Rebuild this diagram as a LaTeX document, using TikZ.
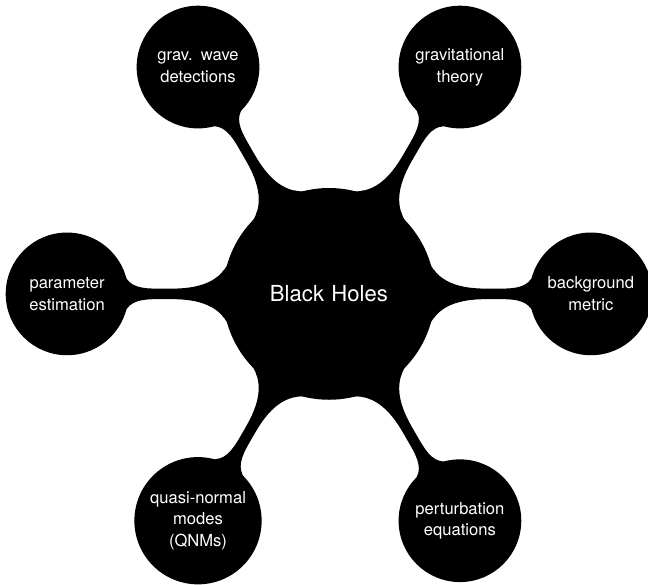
\documentclass[tikz,border=0pt]{standalone}
\usepackage{fontspec}
\setmainfont{TeX Gyre Heros}
\usepackage{xcolor}
\definecolor{cMain}{HTML}{000000}
\definecolor{cLabel}{HTML}{FFFFFF}
\usepackage{tikz}
\usetikzlibrary{mindmap}
\tikzset{
  node-root/.style={concept,minimum size=4cm,text width=3.5cm,
    align=center,text=cLabel,font=\large},
  node-topic/.style={concept,minimum size=2.3cm,text width=2cm,
    align=center,text=cLabel,font=\fontsize{9}{11.8}\selectfont},
  bar/.style={circle connection bar switch color=from (cMain) to (cMain)},
}

\begin{document}
\begin{tikzpicture}[mindmap,concept color=cMain]
  \useasboundingbox (-6.28,-5.55) rectangle (6.09,5.61);
  \node[node-root]                 (bh)  {Black Holes};
  \node[node-topic] at (60:5cm)   (gt)  {gravitational theory};
  \node[node-topic] at (120:5cm)  (gw)  {grav. wave detections};
  \node[node-topic] at (180:5cm)  (pe)  {parameter estimation};
  \node[node-topic] at (240:5cm)  (qnm) {quasi-normal modes (QNMs)};
  \node[node-topic] at (300:5cm)  (peq) {perturbation equations};
  \node[node-topic] at (0:5cm)    (bm)  {background metric};
  \path (bh) to[bar] (gt);
  \path (bh) to[bar] (gw);
  \path (bh) to[bar] (pe);
  \path (bh) to[bar] (qnm);
  \path (bh) to[bar] (peq);
  \path (bh) to[bar] (bm);
\end{tikzpicture}
\end{document}
